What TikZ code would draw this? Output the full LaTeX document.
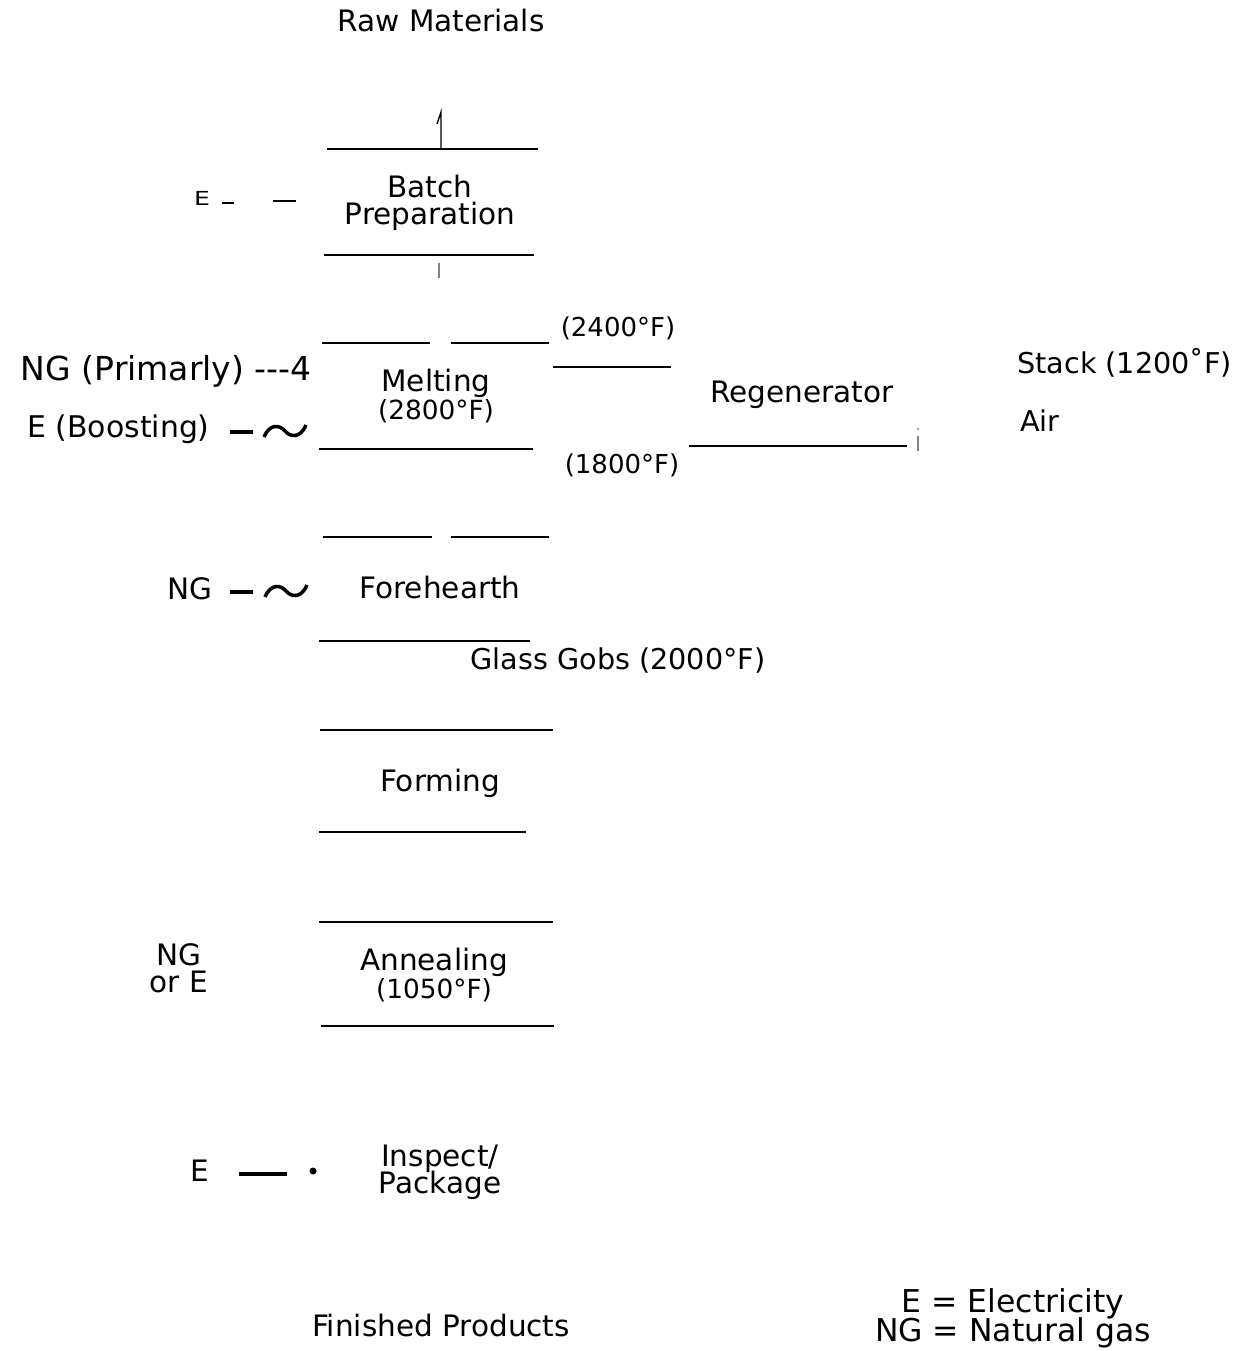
\documentclass[tikz,border=0pt]{standalone}
\usepackage{fontspec}
\setmainfont{DejaVu Sans}
\usetikzlibrary{positioning}

\newcommand\tightlines{\lineskiplimit=-20pt\relax}

\tikzset{
  wave/.pic={\draw[feed] (-21,6) .. controls (-15,-8) and (-5,-6) .. (0,0) .. controls (5,6) and (15,8) .. (21,-6);}
}

\begin{document}
\begin{tikzpicture}
[x=0.02cm, y=-0.02cm,
  stage/.style={font={\fontsize{16.8}{15.5}\selectfont\tightlines}, align=center, inner sep=0pt},
  note/.style={font=\fontsize{16.3}{16}\selectfont, inner sep=0pt},
  temp/.style={font=\fontsize{14.8}{15}\selectfont, inner sep=0pt},
  side/.style={font=\fontsize{17}{17}\selectfont, inner sep=0pt},
  edge/.style={line width=0.8pt},
  feed/.style={line width=2pt},
  ghost/.style={line width=0.6pt, gray}]
  \useasboundingbox (0,0) rectangle (1241,1351);

  % process stages
  \node[stage] (raw) at (441,21) {Raw Materials};
  \node[stage] (batch) at (430,203) {Batch\\Preparation};
  \node[stage] (melt) at (436,396) {Melting\\{\fontsize{15}{15}\selectfont(2800°F)}};
  \node[stage] (fore) at (440,587) {Forehearth};
  \node[note] (gobs) at (618,661) {Glass Gobs (2000°F)};
  \node[stage] (form) at (440,783) {Forming};
  \node[stage] (anneal) at (434,975) {Annealing\\{\fontsize{15}{15}\selectfont(1050°F)}};
  \node[stage] (pack) at (440,1172) {Inspect/\\Package};
  \node[stage] (fin) at (441,1325) {Finished Products};

  % regenerator side
  \node[stage] (regen) at (802,395) {Regenerator};
  \node[temp] (hot) at (618,328) {(2400°F)};
  \node[temp] (cool) at (622,465) {(1800°F)};
  \node[note, anchor=west] (stack) at (1017,363) {Stack (1200˚F)};
  \node[note, anchor=west] (air) at (1020,421) {Air};

  % energy inputs
  \node[font=\fontsize{11}{11}\selectfont, xscale=1.3, inner sep=0pt] (ebatch) at (202,198) {E};
  \node[side, font=\fontsize{18.8}{18}\selectfont, anchor=east] (ngmelt) at (312,371) {NG (Primarly) -{}-{}-4};
  \node[side, anchor=east] (emelt) at (210,429) {E (Boosting)};
  \node[stage] (ngfore) at (190,589) {NG};
  \node[stage] (ngann) at (179,968) {NG\\or E};
  \node[stage] (epack) at (200,1171) {E};
  \node[font={\fontsize{17.9}{16.4}\selectfont\tightlines}, align=center, inner sep=0pt] (key) at (1013,1318) {E = Electricity\\NG = Natural gas};

  % box edges
  \draw[edge] (327,149) -- (538,149);
  \draw[edge] (441,149) -- (441,112) -- (437,124);
  \draw[edge] (324,255) -- (534,255);
  \draw[ghost] (439,263) -- (439,278);
  \draw[edge] (322,343) -- (430,343) (451,343) -- (549,343);
  \draw[edge] (553,367) -- (671,367);
  \draw[edge] (319,449) -- (533,449);
  \draw[edge] (689,446) -- (907,446);
  \draw[ghost] (918,436) -- (918,451);
  \fill[gray] (918,429) circle (1.2);
  \draw[edge] (323,537) -- (432,537) (451,537) -- (549,537);
  \draw[edge] (319,641) -- (530,641);
  \draw[edge] (320,730) -- (553,730);
  \draw[edge] (319,832) -- (526,832);
  \draw[edge] (319,922) -- (553,922);
  \draw[edge] (321,1026) -- (554,1026);

  % feed marks
  \draw[edge] (222,203) -- (234,203) (273,201) -- (296,201);
  \draw[feed] (230,432) -- (253,432);
  \pic at (285,431) {wave};
  \draw[feed] (230,592) -- (253,592);
  \pic at (286,591) {wave};
  \draw[feed] (239,1174) -- (287,1174);
  \fill (313,1171) circle (3.5);
\end{tikzpicture}
\end{document}
